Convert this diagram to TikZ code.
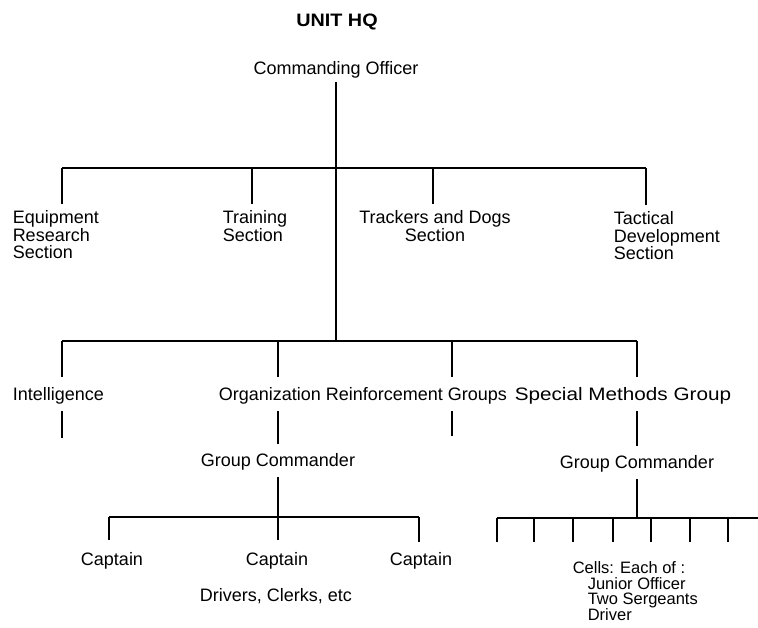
\documentclass[tikz,border=0pt]{standalone}
\usepackage{fontspec}
\usepackage{graphicx}
\setmainfont{Liberation Sans}
\begin{document}
\begin{tikzpicture}[x=1pt,y=-1pt, line width=1.5pt,
  lbl/.style={inner sep=0pt, font=\fontsize{18}{17.5}\selectfont},
  ttl/.style={inner sep=0pt, font=\bfseries\fontsize{18}{18}\selectfont}]
\useasboundingbox[fill=white] (0,0) rectangle (758,627);
% titles
\node[ttl, anchor=north] (title) at (337,13) {\scalebox{1.1}[1]{UNIT HQ}};
\node[lbl, anchor=north] (co) at (336,61) {Commanding Officer};
% first row
\node[lbl, anchor=north west, align=left] (eq) at (12,210) {Equipment\\Research\\Section};
\node[lbl, anchor=north west, align=left] (tr) at (222,210) {Training\\Section};
\node[lbl, anchor=north, align=center] (tk) at (435,210) {Trackers and Dogs\\Section};
\node[lbl, anchor=north west, align=left] (tac) at (613,211) {Tactical\\Development\\Section};
\coordinate (t2) at (336,341);
\coordinate (a1) at (62,168);
\coordinate (a2) at (252,168);
\coordinate (a3) at (433,168);
\coordinate (a4) at (646,168);
\draw[shorten <=3pt] (co.south) -- (t2);
\draw (a1) -- (a4);
\foreach \c/\n in {a1/eq, a2/tr, a3/tk, a4/tac}
  \draw[shorten >=6pt] (\c) -- (\c |- \n.north);
% second row
\node[lbl, anchor=north west] (intel) at (12,387) {Intelligence};
\node[lbl, anchor=north west] (org) at (218,387) {Organization Reinforcement Groups};
\node[lbl, anchor=north west] (smg) at (514,387) {\scalebox{1.15}[1]{Special Methods Group}};
\coordinate (b1) at (62,341);
\coordinate (b2) at (278,341);
\coordinate (b3) at (452,341);
\coordinate (b4) at (637,341);
\draw (b1) -- (b4);
\foreach \c/\n in {b1/intel, b2/org, b3/org, b4/smg}
  \draw[shorten >=10pt] (\c) -- (\c |- \n.north);
\coordinate (e1) at (62,438);
\coordinate (e3) at (452,436);
\node[lbl, anchor=north] (gc1) at (278,453) {Group Commander};
\node[lbl, anchor=north] (gc2) at (637,455) {Group Commander};
\draw[shorten <=6pt] (b1 |- intel.south) -- (e1);
\draw[shorten <=6pt] (b3 |- org.south) -- (e3);
\draw[shorten <=6pt, shorten >=9pt] (b2 |- org.south) -- (gc1.north);
\draw[shorten <=6pt, shorten >=9pt] (b4 |- smg.south) -- (gc2.north);
% captains
\node[lbl, anchor=north] (cp1) at (112,552) {Captain};
\node[lbl, anchor=north] (cp2) at (277,552) {Captain};
\node[lbl, anchor=north] (cp3) at (421,552) {Captain};
\node[lbl, anchor=north] (dr) at (276,588) {Drivers, Clerks, etc};
\coordinate (c1) at (109,517);
\coordinate (c3) at (419,517);
\draw (c1) -- (c3);
\draw[shorten >=12pt] (c1) -- (c1 |- cp1.north);
\draw[shorten >=10pt] (c3) -- (c3 |- cp3.north);
\draw[shorten <=6pt, shorten >=12pt] (gc1.south) -- (gc1.south |- cp2.north);
% cells
\coordinate (f1) at (497,518);
\coordinate (fR) at (758,518);
\draw (f1) -- (fR);
\draw[shorten <=6pt] (gc2.south) -- (gc2.south |- f1);
\foreach \x in {497,534,573,613,651,690,728}{
  \coordinate (u\x) at (\x,518);
  \coordinate (v\x) at (\x,542);
  \draw (u\x) -- (v\x);
}
\node[lbl, anchor=north west, align=left, font=\fontsize{16.5}{15.5}\selectfont] (cells) at (572,561)
  {Cells: Each of :\\\hspace{15pt}Junior Officer\\\hspace{15pt}Two Sergeants\\\hspace{15pt}Driver};
\end{tikzpicture}
\end{document}
